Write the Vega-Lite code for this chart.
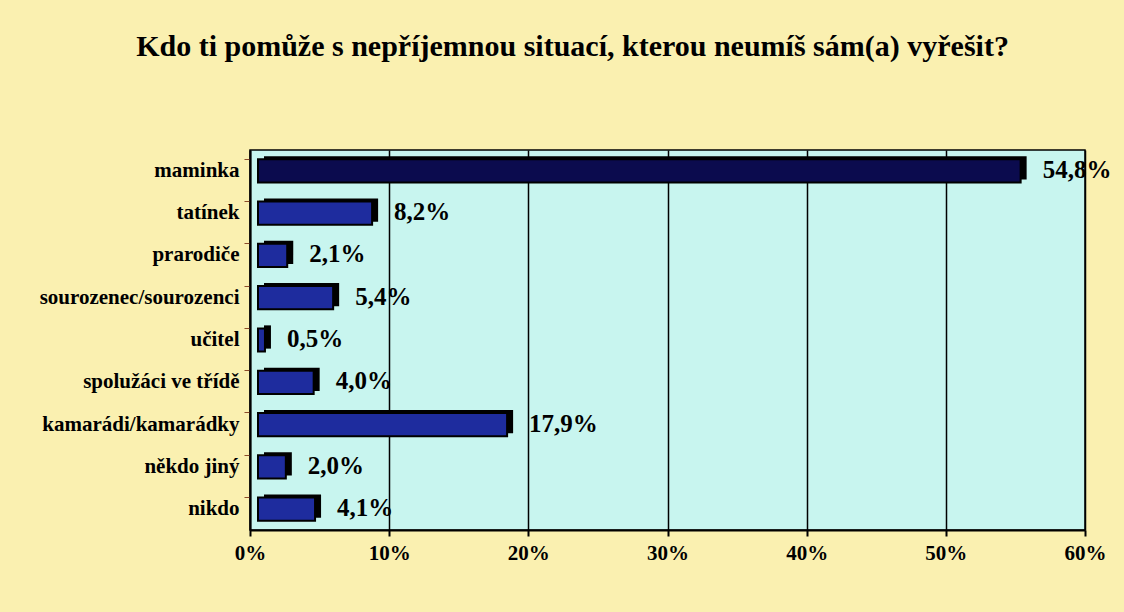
{
  "$schema": "https://vega.github.io/schema/vega-lite/v6.json",
  "autosize": "none",
  "width": 835,
  "height": 380,
  "padding": {"left": 250, "top": 150, "right": 39, "bottom": 82},
  "background": "#FAF0B0",
  "title": {
    "text": "Kdo ti pomůže s nepříjemnou situací, kterou neumíš sám(a) vyřešit?",
    "font": "Liberation Serif",
    "fontSize": 30,
    "fontWeight": "bold",
    "color": "#000000",
    "anchor": "middle",
    "dx": -95,
    "offset": 88
  },
  "config": {
    "locale": {"number": {"decimal": ",", "thousands": " ", "grouping": [3], "currency": ["", " Kč"]}},
    "view": {"fill": "#C8F5EF", "stroke": "#000000", "strokeWidth": 1.5},
    "font": "Liberation Serif"
  },
  "data": {
    "values": [
      {"kdo": "maminka", "podil": 0.548},
      {"kdo": "tatínek", "podil": 0.082},
      {"kdo": "prarodiče", "podil": 0.021},
      {"kdo": "sourozenec/sourozenci", "podil": 0.054},
      {"kdo": "učitel", "podil": 0.005},
      {"kdo": "spolužáci ve třídě", "podil": 0.040},
      {"kdo": "kamarádi/kamarádky", "podil": 0.179},
      {"kdo": "někdo jiný", "podil": 0.020},
      {"kdo": "nikdo", "podil": 0.041}
    ]
  },
  "encoding": {
    "y": {
      "field": "kdo",
      "type": "nominal",
      "sort": null,
      "scale": {"paddingInner": 0.45, "paddingOuter": 0.22},
      "axis": {
        "title": null,
        "labelFont": "Liberation Serif",
        "labelFontSize": 21,
        "labelFontWeight": "bold",
        "labelColor": "#000000",
        "labelPadding": 5,
        "labelLimit": 400,
        "bandPosition": 0,
        "tickColor": "#8B4A2A",
        "tickSize": 6,
        "domainColor": "#000000",
        "domainWidth": 2,
        "grid": false
      }
    }
  },
  "layer": [
    {
      "mark": {"type": "bar", "color": "#000000", "xOffset": 14, "x2Offset": 14, "yOffset": -3},
      "encoding": {
        "x": {
          "field": "podil",
          "type": "quantitative",
          "scale": {"domain": [0, 0.6], "nice": false},
          "axis": {
            "title": null,
            "format": ".0%",
            "values": [0, 0.1, 0.2, 0.3, 0.4, 0.5, 0.6],
            "labelFont": "Liberation Serif",
            "labelFontSize": 21,
            "labelFontWeight": "bold",
            "labelColor": "#000000",
            "labelPadding": 6,
            "labelFlush": false,
            "tickColor": "#000000",
            "tickSize": 6,
            "tickWidth": 2,
            "domainColor": "#000000",
            "domainWidth": 2,
            "grid": true,
            "gridColor": "#000000",
            "gridWidth": 1.5
          }
        }
      }
    },
    {
      "mark": {"type": "bar", "stroke": "#000000", "strokeWidth": 2, "xOffset": 8, "x2Offset": 8},
      "encoding": {
        "x": {"field": "podil", "type": "quantitative"},
        "color": {
          "condition": {"test": "datum.kdo === 'maminka'", "value": "#0B0B4E"},
          "value": "#1E2C9E"
        }
      }
    },
    {
      "mark": {"type": "text", "align": "left", "baseline": "middle", "dx": 30, "dy": -1, "font": "Liberation Serif", "fontSize": 25, "fontWeight": "bold", "color": "#000000"},
      "encoding": {
        "x": {"field": "podil", "type": "quantitative"},
        "text": {"field": "podil", "type": "quantitative", "format": ".1%"}
      }
    }
  ]
}
